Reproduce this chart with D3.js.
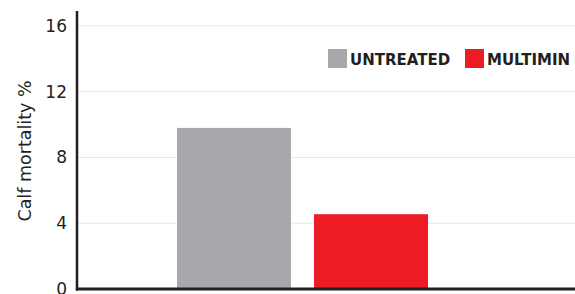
<!DOCTYPE html>
<html>
<head>
<meta charset="utf-8">
<script src="https://cdn.jsdelivr.net/npm/d3@7"></script>
<style>
  html, body { margin: 0; padding: 0; background: #fff; overflow: hidden; }
  svg { display: block; font-family: "DejaVu Sans", Verdana, sans-serif; }
</style>
</head>
<body>
<svg id="chart" width="575" height="294"></svg>
<script>
const categories = ["UNTREATED", "MULTIMIN"];
const values = [9.8, 4.55];
const colors = ["#a7a8ab", "#ed1c24"];
const yTicks = [0, 4, 8, 12, 16];
const yTitle = "Calf mortality %";

const svg = d3.select("#chart");
const width = 575, height = 294;
const margin = {left: 77, top: 11};
const baseY = 289;

const y = d3.scaleLinear().domain([0, 16]).range([baseY, 26]);
const x = d3.scaleBand().domain(categories).range([177, 428]).paddingInner(23 / 137).paddingOuter(0);

// gridlines
svg.append("g")
  .selectAll("line")
  .data(yTicks.filter(d => d > 0))
  .enter()
  .append("line")
  .attr("x1", margin.left).attr("x2", width)
  .attr("y1", d => y(d)).attr("y2", d => y(d))
  .attr("stroke", "#e6e6e6").attr("stroke-width", 1.2);

// bars
svg.append("g")
  .selectAll("rect")
  .data(categories)
  .enter()
  .append("rect")
  .attr("x", d => x(d))
  .attr("width", x.bandwidth())
  .attr("y", (d, i) => y(values[i]))
  .attr("height", (d, i) => y(0) - y(values[i]))
  .attr("fill", (d, i) => colors[i]);

// y axis
const yAxis = d3.axisLeft(y).tickValues(yTicks).tickSize(0).tickPadding(10);
const ga = svg.append("g").attr("transform", `translate(${margin.left},0)`).call(yAxis);
ga.select(".domain").remove();
ga.selectAll("text")
  .attr("font-size", 17)
  .attr("fill", "#231f20")
  .attr("font-family", "'DejaVu Sans', Verdana, sans-serif");

svg.append("line")
  .attr("x1", margin.left).attr("x2", margin.left)
  .attr("y1", margin.top).attr("y2", baseY + 1.5)
  .attr("stroke", "#231f20").attr("stroke-width", 2.5);
svg.append("line")
  .attr("x1", margin.left - 1.2).attr("x2", width)
  .attr("y1", baseY).attr("y2", baseY)
  .attr("stroke", "#231f20").attr("stroke-width", 3);

svg.append("text")
  .attr("transform", `translate(31,151) rotate(-90)`)
  .attr("text-anchor", "middle")
  .attr("font-size", 17.5)
  .attr("fill", "#231f20")
  .text(yTitle);

// legend
const legendX = [328, 465];
const lg = svg.append("g")
  .selectAll("g")
  .data(categories)
  .enter()
  .append("g")
  .attr("transform", (d, i) => `translate(${legendX[i]},49)`);
lg.append("rect")
  .attr("width", 19).attr("height", 19)
  .attr("fill", (d, i) => colors[i]);
lg.append("text")
  .attr("x", 22).attr("y", 15.5)
  .attr("font-size", 15)
  .attr("font-weight", "bold")
  .attr("fill", "#231f20")
  .text(d => d);
</script>
</body>
</html>
